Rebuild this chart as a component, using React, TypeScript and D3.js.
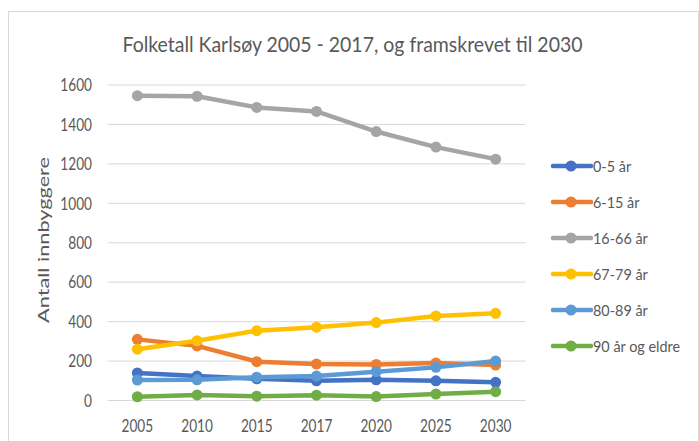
import React from "react";
import * as d3 from "d3";

const years = ["2005", "2010", "2015", "2017", "2020", "2025", "2030"];
const seriesNames = ["0-5 år", "6-15 år", "16-66 år", "67-79 år", "80-89 år", "90 år og eldre"];
const age0to5 = [140, 124, 110, 100, 105, 100, 92];
const age6to15 = [310, 277, 197, 185, 183, 190, 180];
const age16to66 = [1546, 1543, 1486, 1466, 1364, 1285, 1224];
const age67to79 = [260, 303, 354, 372, 395, 429, 442];
const age80to89 = [104, 105, 118, 124, 146, 168, 200];
const age90plus = [19, 28, 22, 27, 20, 33, 45];
const yTicks = [0, 200, 400, 600, 800, 1000, 1200, 1400, 1600];
const colors = ["#4472C4", "#ED7D31", "#A5A5A5", "#FFC000", "#5B9BD5", "#70AD47"];

const allSeries = [age0to5, age6to15, age16to66, age67to79, age80to89, age90plus];

const font = "Lato, 'Open Sans', sans-serif";
const textColor = "#595959";

// text squeezed sideways, like the reference
function Label({ x, y, sx = 0.8, size, anchor = "start", children }: any) {
  return (
    <g transform={`translate(${x},${y}) scale(${sx},1)`}>
      <text textAnchor={anchor} fontFamily={font} fontSize={size} fill={textColor}>
        {children}
      </text>
    </g>
  );
}

export default function App() {
  const x = d3.scaleBand().domain(years).range([107.5, 525.5]);
  const y = d3.scaleLinear().domain([0, 1600]).range([400.5, 85]);
  const cx = (i: number) => x(years[i])! + x.bandwidth() / 2;
  const line = d3
    .line<number>()
    .x((_, i) => cx(i))
    .y((d) => y(d));

  return (
    <div style={{ position: "fixed", left: 0, top: 0 }}>
      <svg width={699} height={441} style={{ display: "block", background: "#fff" }}>
        <rect x={8.5} y={11.5} width={690} height={440} fill="#fff" stroke="#D9D9D9" />
        <text
          x={122.5}
          y={52.3}
          textLength={460}
          lengthAdjust="spacingAndGlyphs"
          fontFamily={font}
          fontSize={21.5}
          fill={textColor}
        >
          Folketall Karlsøy 2005 - 2017, og framskrevet til 2030
        </text>
        {yTicks.map((t) => (
          <g key={t}>
            <line x1={107.5} x2={525.5} y1={y(t)} y2={y(t)} stroke="#D9D9D9" strokeWidth={1} />
            <Label x={92} y={y(t) + 6.3} size={17.5} sx={0.78} anchor="end">
              {t}
            </Label>
          </g>
        ))}
        {years.map((yr, i) => (
          <Label key={yr} x={cx(i)} y={431.5} size={17.5} sx={0.78} anchor="middle">
            {yr}
          </Label>
        ))}
        <g transform={`translate(49,240) scale(0.85,1) rotate(-90)`}>
          <text
            textAnchor="middle"
            textLength={166}
            lengthAdjust="spacingAndGlyphs"
            fontFamily={font}
            fontSize={18.5}
            fill={textColor}
          >
            Antall innbyggere
          </text>
        </g>
        {allSeries.map((s, si) => (
          <g key={si}>
            <path d={line(s)!} fill="none" stroke={colors[si]} strokeWidth={4.5} strokeLinejoin="round" strokeLinecap="round" />
            {s.map((v, i) => (
              <circle key={i} cx={cx(i)} cy={y(v)} r={5.5} fill={colors[si]} />
            ))}
          </g>
        ))}
        {seriesNames.map((n, i) => {
          const ly = 166 + i * 36;
          return (
            <g key={n}>
              <line x1={553} x2={591} y1={ly} y2={ly} stroke={colors[i]} strokeWidth={4.5} strokeLinecap="round" />
              <circle cx={571} cy={ly} r={5.5} fill={colors[i]} />
              <Label x={593} y={ly + 5.5} size={16} sx={0.9}>
                {n}
              </Label>
            </g>
          );
        })}
      </svg>
    </div>
  );
}
